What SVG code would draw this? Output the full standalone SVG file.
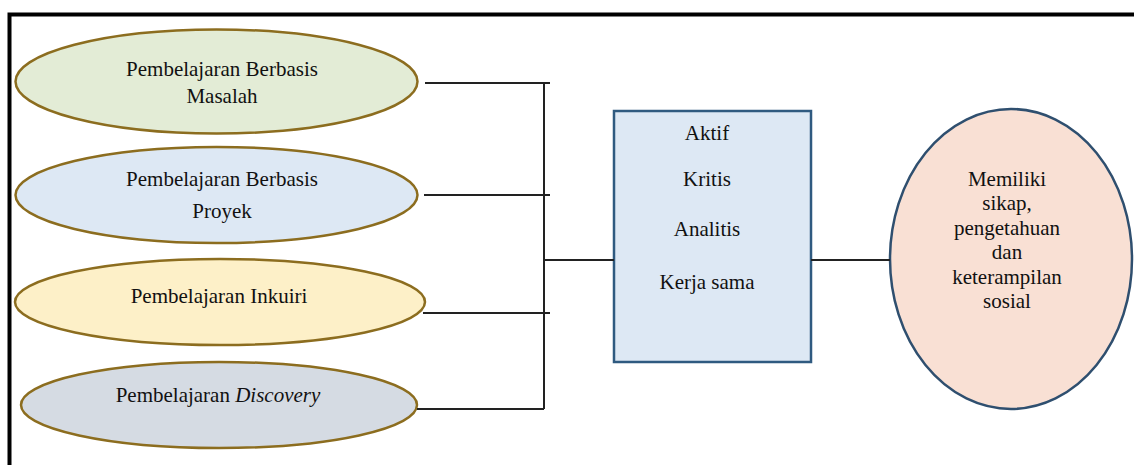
<svg xmlns="http://www.w3.org/2000/svg" width="1134" height="465" viewBox="0 0 1134 465">
<style>
.ell{stroke:#8c6d1f;stroke-width:2.5}
.t{font-family:"Liberation Serif","Times New Roman",serif;font-size:21px;fill:#111;text-anchor:middle}
.c{stroke:#222;stroke-width:2;fill:none}
</style>
<rect width="1134" height="465" fill="#fff"/>
<path d="M9.5 465 V14.5 H1134" fill="none" stroke="#000" stroke-width="4"/>
<g id="n1"><ellipse class="ell" cx="216.5" cy="81.5" rx="201" ry="52" fill="#e3ecd6"/>
<text class="t" x="222" y="76">Pembelajaran Berbasis</text><text class="t" x="222" y="103">Masalah</text></g>
<g id="n2"><ellipse class="ell" cx="216.5" cy="195" rx="201" ry="48" fill="#dde8f4"/>
<text class="t" x="222" y="186">Pembelajaran Berbasis</text><text class="t" x="222" y="218">Proyek</text></g>
<g id="n3"><ellipse class="ell" cx="220" cy="302" rx="205" ry="43" fill="#fdf0c8"/>
<text class="t" x="219" y="303">Pembelajaran Inkuiri</text></g>
<g id="n4"><ellipse class="ell" cx="219" cy="405" rx="198" ry="43" fill="#d5dbe3"/>
<text class="t" x="218" y="402">Pembelajaran <tspan font-style="italic">Discovery</tspan></text></g>
<g id="n5"><rect x="614" y="111" width="197" height="251" fill="#dde8f4" stroke="#2f5a80" stroke-width="2.5"/>
<text class="t" x="707" y="140">Aktif</text><text class="t" x="707" y="186">Kritis</text><text class="t" x="707" y="236">Analitis</text><text class="t" x="707" y="289">Kerja sama</text></g>
<g id="n6"><ellipse cx="1011" cy="259" rx="121" ry="150" fill="#f9e0d4" stroke="#2f4f6f" stroke-width="2.5"/>
<text class="t" x="1007" y="186">Memiliki</text><text class="t" x="1007" y="210">sikap,</text><text class="t" x="1007" y="235">pengetahuan</text><text class="t" x="1007" y="259">dan</text><text class="t" x="1007" y="284">keterampilan</text><text class="t" x="1007" y="308">sosial</text></g>
<g id="connectors">
<path class="c" d="M425 83 H550 M424 195 H550 M423 313 H550 M417 409 H544 M544 83 V409"/>
<path class="c" d="M544 260 H614 M811 260 H890"/>
</g>
</svg>
